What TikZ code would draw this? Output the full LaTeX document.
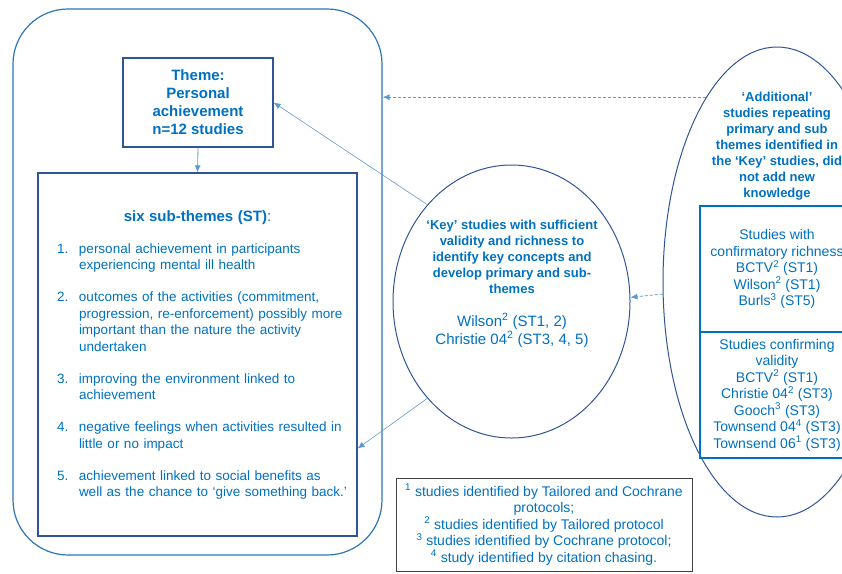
\documentclass[tikz,border=0pt]{standalone}
\usepackage{fontspec}
\setmainfont{Liberation Sans}
\usepackage{array}
\usepackage{tikz}
\usetikzlibrary{arrows.meta,shapes,positioning,calc}
\definecolor{stblue}{RGB}{0,112,192}
\definecolor{stdark}{RGB}{47,85,151}
\definecolor{stlight}{RGB}{91,155,213}
\definecolor{stframe}{RGB}{46,117,182}
\tikzstyle{arrow} = [line width=0.8pt,-{Latex[length=7pt,width=6pt]},color=stlight]
\tikzstyle{dasharrow} = [arrow, densely dashed]
\tikzstyle{themebox} = [rectangle, draw=stdark, line width=1.2pt, text=stblue, align=center]
\tikzstyle{studybox} = [rectangle, draw=stblue, line width=1.5pt, text=stblue, align=center, minimum width=154pt, minimum height=126pt, font=\fontsize{14}{16.5}\selectfont]
\tikzstyle{studyset} = [ellipse, draw=stdark, line width=1pt, inner sep=0pt]

\begin{document}
\begin{tikzpicture}[x=1pt, y=-1pt]
    \useasboundingbox (0,0) rectangle (842,573);

    % Outer frame
    \node[draw=stframe, line width=1.2pt, rounded corners=55pt, minimum width=369pt, minimum height=546pt] (frame) at (197.5,282) {};

    % Theme and sub-themes
    \node[themebox, minimum width=150pt, minimum height=89pt, font=\fontsize{15}{18}\selectfont\bfseries] (theme) at (198,102.5) {Theme:\\Personal\\achievement\\n=12 studies};
    \node[themebox, text width=300pt, inner xsep=9.5pt, minimum height=363pt, font=\fontsize{13.5}{16.5}\selectfont] (subthemes) at (197.5,354.5) {%
        {\fontsize{15}{18}\selectfont\bfseries six sub-themes (ST)}{\fontsize{15}{18}\selectfont:}\par\vspace{16pt}
        \begin{tabular}{@{\hspace{9.5pt}}p{22pt}@{}>{\raggedright\arraybackslash}p{268.5pt}@{}}
        1. & personal achievement in participants\newline experiencing mental ill health\tabularnewline\noalign{\vskip 15.5pt}
        2. & outcomes of the activities (commitment,\newline progression, re-enforcement) possibly more\newline important than the nature the activity\newline undertaken\tabularnewline\noalign{\vskip 15.5pt}
        3. & improving the environment linked to\newline achievement\tabularnewline\noalign{\vskip 15.5pt}
        4. & negative feelings when activities resulted in\newline little or no impact\tabularnewline\noalign{\vskip 15.5pt}
        5. & achievement linked to social benefits as\newline well as the chance to ‘give something back.’
        \end{tabular}\par\vspace{-3pt}};

    % Key studies
    \node[studyset, minimum width=237pt, minimum height=273pt] (key) at (511.5,301.5) {};
    \node[text=stblue, align=center, font=\fontsize{13}{16}\selectfont\bfseries] (keytext) at (512,283.5) {‘Key’ studies with sufficient\\validity and richness to\\identify key concepts and\\develop primary and sub-\\themes\\[17pt]{\mdseries\fontsize{15}{18}\selectfont Wilson\textsuperscript{2} (ST1, 2)}\\[2pt]{\mdseries\fontsize{15}{18}\selectfont Christie 04\textsuperscript{2} (ST3, 4, 5)}};

    % Additional studies
    \node[studyset, minimum width=228pt, minimum height=470pt] (addl) at (777,282) {};
    \node[text=stblue, align=center, font=\fontsize{13}{16}\selectfont\bfseries] (addltext) at (777,146.6) {‘Additional’\\studies repeating\\primary and sub\\themes identified in\\the ‘Key’ studies, did\\not add new\\knowledge};
    \node[studybox] (richness) at (777,269) {Studies with\\confirmatory richness\\BCTV\textsuperscript{2} (ST1)\\Wilson\textsuperscript{2} (ST1)\\Burls\textsuperscript{3} (ST5)};
    \node[studybox] (validity) at (777,395) {Studies confirming\\validity\\BCTV\textsuperscript{2} (ST1)\\Christie 04\textsuperscript{2} (ST3)\\Gooch\textsuperscript{3} (ST3)\\Townsend 04\textsuperscript{4} (ST3)\\Townsend 06\textsuperscript{1} (ST3)};

    % Footnotes
    \node[draw=black!75, line width=1pt, minimum width=296pt, minimum height=93pt, align=center, text=stblue, font=\fontsize{14}{16.5}\selectfont] (notes) at (544,524.5) {\textsuperscript{1} studies identified by Tailored and Cochrane\\protocols;\\\textsuperscript{2} studies identified by Tailored protocol\\\textsuperscript{3} studies identified by Cochrane protocol;\\\textsuperscript{4} study identified by citation chasing.};

    % Connections
    \draw[arrow] (theme.south) -- (subthemes.north);
    \draw[arrow, line width=0.6pt] (key.131) -- (theme.east);
    \draw[arrow, line width=0.6pt] (key.229) -- ($(subthemes.south east)!0.242!(subthemes.north east)$);
    \draw[dasharrow] (addl.111) -- (addl.111 -| frame.east);
    \draw[dasharrow] (addl.186) -- (key.2);
\end{tikzpicture}
\end{document}
